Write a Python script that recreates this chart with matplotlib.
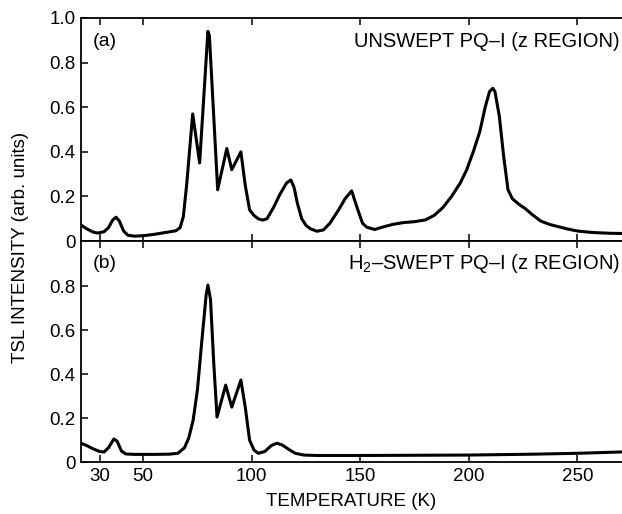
import matplotlib
matplotlib.use("Agg")
import matplotlib.pyplot as plt

plt.rcParams['font.family'] = ['Liberation Sans', 'DejaVu Sans']
plt.rcParams['mathtext.fontset'] = 'custom'
plt.rcParams['mathtext.rm'] = 'Liberation Sans'

# (a) unswept PQ-I
temp_a = [21.3, 24, 27, 29, 32, 34, 36, 37.5, 39, 41, 43, 46, 50, 55, 60, 65, 67, 68.5, 70,
          72.8, 76, 79.8, 80.5, 84.3, 88.5, 90.8, 95, 97, 99, 101, 103, 105, 107, 110, 113,
          116, 118, 119.5, 121, 123, 125, 127, 130, 133, 136, 140, 143, 146, 148.5, 151, 153,
          156.6, 160, 165, 170, 175, 180, 184, 188, 192, 196, 199, 202, 205, 207.5, 209.5,
          211, 212, 214, 216, 218, 220, 223, 226, 229, 233, 237, 241, 245, 250, 255, 260,
          265, 270]
tsl_a = [0.072, 0.055, 0.040, 0.036, 0.042, 0.060, 0.095, 0.107, 0.090, 0.045, 0.026, 0.022,
         0.024, 0.030, 0.038, 0.046, 0.060, 0.110, 0.250, 0.570, 0.350, 0.940, 0.920, 0.230,
         0.415, 0.320, 0.400, 0.250, 0.140, 0.115, 0.100, 0.094, 0.100, 0.150, 0.210, 0.260,
         0.274, 0.240, 0.170, 0.100, 0.070, 0.055, 0.044, 0.050, 0.080, 0.140, 0.190, 0.225,
         0.150, 0.080, 0.062, 0.052, 0.062, 0.075, 0.083, 0.087, 0.095, 0.115, 0.150, 0.200,
         0.260, 0.320, 0.400, 0.490, 0.600, 0.670, 0.685, 0.670, 0.560, 0.380, 0.230, 0.190,
         0.165, 0.145, 0.120, 0.090, 0.075, 0.065, 0.055, 0.045, 0.040, 0.037, 0.035, 0.034]

# (b) H2-swept PQ-I
temp_b = [21.3, 24, 27, 30, 32, 34, 36.5, 38, 40, 42, 46, 55, 62, 66, 69, 71, 73, 75, 77, 79,
          79.8, 81, 82.5, 84, 88, 90.8, 95, 97, 99, 101, 103, 106, 109, 111.5, 114, 117, 120,
          124, 130, 150, 200, 230, 250, 270]
tsl_b = [0.086, 0.075, 0.060, 0.048, 0.046, 0.065, 0.105, 0.095, 0.050, 0.037, 0.035, 0.035,
         0.036, 0.040, 0.065, 0.110, 0.190, 0.330, 0.550, 0.760, 0.805, 0.740, 0.450, 0.205,
         0.350, 0.250, 0.373, 0.250, 0.100, 0.055, 0.040, 0.048, 0.075, 0.086, 0.078, 0.058,
         0.040, 0.032, 0.030, 0.030, 0.032, 0.036, 0.040, 0.046]

x_ticks = [30, 50, 100, 150, 200, 250]
y_ticks_a = [0, 0.2, 0.4, 0.6, 0.8, 1.0]
y_labels_a = ['0', '0.2', '0.4', '0.6', '0.8', '1.0']
y_ticks_b = [0, 0.2, 0.4, 0.6, 0.8]
y_labels_b = ['0', '0.2', '0.4', '0.6', '0.8']

fig = plt.figure(figsize=(6.22, 5.14), dpi=100)
ax1 = fig.add_axes([0.130, 0.531, 0.87, 0.434])
ax2 = fig.add_axes([0.130, 0.101, 0.87, 0.430])

for ax, t, v in [(ax1, temp_a, tsl_a), (ax2, temp_b, tsl_b)]:
    ax.plot(t, v, color='black', lw=2.2, solid_joinstyle='round')
    ax.set_xlim(21.3, 270.5)
    ax.set_xticks(x_ticks)
    ax.tick_params(direction='in', top=True, length=5, width=1.1, labelsize=13.5, pad=4)
    ax.spines['right'].set_visible(False)
    for s in ['left', 'top', 'bottom']:
        ax.spines[s].set_linewidth(1.3)

ax1.set_ylim(0, 1.0)
ax1.set_yticks(y_ticks_a, y_labels_a)
ax1.tick_params(labelbottom=False)
ax2.set_ylim(0, 1.005)
ax2.set_yticks(y_ticks_b, y_labels_b)
ax2.set_xticklabels([str(v) for v in x_ticks])
ax2.set_xlabel('TEMPERATURE (K)', fontsize=13.5, labelpad=6)

ax1.text(0.022, 0.895, '(a)', transform=ax1.transAxes, fontsize=14, va='center')
ax1.text(0.996, 0.895, 'UNSWEPT PQ\u2013I (z REGION)', transform=ax1.transAxes,
         fontsize=14.5, va='center', ha='right')
ax2.text(0.022, 0.9, '(b)', transform=ax2.transAxes, fontsize=14, va='center')
ax2.text(0.996, 0.9, 'H$_\\mathrm{2}$\u2013SWEPT PQ\u2013I (z REGION)', transform=ax2.transAxes,
         fontsize=14.5, va='center', ha='right')

fig.text(21 / 622, 1 - 247 / 514, 'TSL INTENSITY (arb. units)', rotation=90,
         fontsize=13.5, va='center', ha='center')

fig.savefig('out.png', dpi=100)
